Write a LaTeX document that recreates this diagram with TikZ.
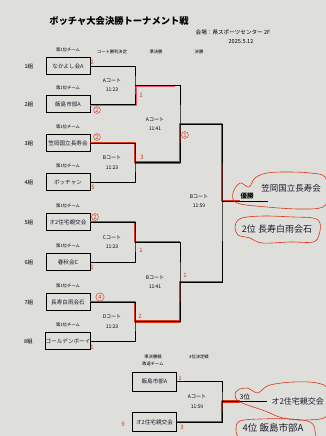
\documentclass[tikz,border=0pt]{standalone}
\usepackage{fontspec}
\setmainfont{Noto Sans CJK JP}
\usetikzlibrary{positioning}
\definecolor{paper}{RGB}{222,222,219}
\definecolor{pen}{RGB}{221,52,24}
\definecolor{pinkpen}{RGB}{235,85,110}
\definecolor{ink}{RGB}{30,30,48}
\tikzset{
  teambox/.style={draw=black, line width=0.7pt, minimum width=44pt, minimum height=17pt, inner sep=0pt, text=ink, font=\fontsize{5.6}{5.6}\selectfont},
  tinylbl/.style={font=\fontsize{4.3}{7}\selectfont},
  grp/.style={font=\fontsize{5.5}{5.5}\selectfont},
  court/.style={align=center, font=\fontsize{5}{9.5}\selectfont},
  wire/.style={draw=black, line width=0.75pt},
  winpath/.style={draw=pen, line width=2.4pt, line join=round},
  score/.style={text=pen, font=\fontsize{6}{6}\selectfont, inner sep=0.5pt},
  ringed/.style={score, draw=pen, circle, line width=0.45pt},
  loop/.style={draw=pen, line width=0.6pt},
  rank/.style={font=\fontsize{6.5}{6.5}\selectfont},
  handname/.style={text=ink, font=\fontsize{8.5}{8.5}\selectfont},
}
\begin{document}
\begin{tikzpicture}[x=1pt,y=-1pt]
\fill[paper] (0,0) rectangle (326,436);
\useasboundingbox (0,0) rectangle (326,436);

% heading
\node[font=\fontsize{9.3}{9.3}\selectfont\bfseries] (title) at (119,21) {ボッチャ大会決勝トーナメント戦};
\node[font=\fontsize{5.6}{5.6}\selectfont] (venue) at (233,32) {会場：県スポーツセンター 2F};
\node[font=\fontsize{5.6}{5.6}\selectfont] (date) at (241,42) {2025.5.12};
\node[tinylbl] (hq) at (112,52) {コート勝利決定};
\node[tinylbl] (hs) at (156,52) {準決勝};
\node[tinylbl] (hf) at (199,52) {決勝};

% teams
\foreach \i/\y/\team in {1/66/なかよし会A, 2/104/飯島市部A, 3/143/笠岡国立長寿会, 4/182/ボッチャン,
    5/222/オ2住宅親交会, 6/262/春秋会C, 7/302/長寿白雨会石, 8/341/ゴールデンボーイ}{
  \node[teambox] (g\i) at (68,\y) {\team};
  \node[grp, left=9pt of g\i] (n\i) {{\i}組};
  \node[tinylbl, above=1.5pt of g\i] (h\i) {第1位チーム};
}

% junctions
\coordinate (qA) at (135,85);
\coordinate (qB) at (135,162.5);
\coordinate (qC) at (135,242);
\coordinate (qD) at (135,321.5);
\coordinate (sA) at (180,124);
\coordinate (sB) at (180,282);
\coordinate (fin) at (222,201);
\coordinate (win) at (268,201);

% red marker over the winners
\draw[draw=pinkpen, line width=1pt] ([yshift=-1.5pt]g2.east) -| ([xshift=1.5pt,yshift=-1.5pt]qA) -- ([xshift=40pt,yshift=-1.5pt]qA);
\draw[winpath] (g3.east) -| (qB) -| (sA) -| (fin) -- ([xshift=18pt]fin);
\draw[winpath, line width=1.6pt] (g5.east) -| (qC) -- (qC -| sB);
\draw[winpath] (g7.east) -| (qD) -| (sB) -- (sB -| fin);

% bracket
\draw[wire] (g1.east) -| (qA) |- (g2.east);
\draw[wire] (g3.east) -| (qB) |- (g4.east);
\draw[wire] (g5.east) -| (qC) |- (g6.east);
\draw[wire] (g7.east) -| (qD) |- (g8.east);
\draw[wire] (qA) -| (sA) |- (qB);
\draw[wire] (qC) -| (sB) |- (qD);
\draw[wire] (sA) -| (fin) |- (sB);
\draw[wire] (fin) -- (win);

\node[court] (cA) at (112,85) {Aコート\\11:23};
\node[court] (cB) at (112,162.5) {Bコート\\11:23};
\node[court] (cC) at (112,242) {Cコート\\11:23};
\node[court] (cD) at (112,321.5) {Dコート\\11:23};
\node[court] (sAl) at (155,124) {Aコート\\11:41};
\node[court] (sBl) at (155,282) {Bコート\\11:41};
\node[court] (fl) at (199,201) {Bコート\\11:59};

% third place
\node[tinylbl, align=center] (h3s) at (153,360) {準決勝戦\\敗退チーム};
\node[tinylbl] (h3f) at (199,357) {3位決定戦};
\node[teambox, minimum height=19pt] (t1) at (154.5,381.5) {飯島市部A};
\node[teambox, minimum height=19pt] (t2) at (154.5,422) {オ2住宅親交会};
\coordinate (th) at (222,401.5);
\coordinate (thend) at (267,401.5);
\draw[winpath] (t2.east) -| (th) -- ([xshift=18pt]th);
\draw[wire] (t1.east) -| (th) |- (t2.east);
\draw[wire] (th) -- (thend);
\node[court] (tl) at (197,401.5) {Aコート\\11:59};

% ranks
\node[rank, font=\fontsize{6.5}{6.5}\selectfont\bfseries] (r1) at (247,196) {優勝};
\node[handname] (champ) at (291,188) {笠岡国立長寿会};
\node[handname, font=\fontsize{9}{9}\selectfont] (r2) at (277,229) {2位\ 長寿白雨会石};
\node[rank] (r3) at (245,397) {3位};
\node[handname, font=\fontsize{8}{8}\selectfont, anchor=west] (third) at (268,401.5) {オ2住宅親交会};
\node[handname, font=\fontsize{9.5}{9.5}\selectfont] (r4) at (273,428) {4位\ 飯島市部A};

% hand drawn loops
\draw[loop] plot[smooth cycle, tension=0.6] coordinates {(233,193) (240,183) (249,187) (255,178) (267,173) (287,172) (310,173) (325,177) (328,195) (323,207) (300,209) (267,207) (237,203)};
\draw[loop] plot[smooth cycle, tension=0.6] coordinates {(235,227) (238,220) (247,217) (267,216) (293,217) (313,218) (320,223) (319,235) (313,242) (290,242) (262,243) (250,238) (238,235)};
\draw[loop] plot[smooth cycle, tension=0.6] coordinates {(235,395) (238,390) (247,388) (257,393) (262,390) (270,385) (293,382) (317,383) (328,390) (328,415) (307,420) (283,418) (265,411) (240,402)};
\draw[loop] plot[smooth cycle, tension=0.6] coordinates {(236,429) (240,421) (260,419) (290,419) (310,422) (315,431) (310,440) (260,441) (240,438)};

% scores
\node[score] (p1) at (92,62) {2};
\node[ringed] (p2) at (97,110) {2};
\node[ringed] (p3) at (97,137) {2};
\node[score] (p4) at (93,187) {5};
\node[ringed] (p5) at (95,217) {2};
\node[score] (p6) at (92,267) {1};
\node[ringed, inner sep=1pt] (p7) at (100,297) {4};
\node[score] (p8) at (92,347) {1};
\node[score] (pA) at (141,95) {1};
\node[score] (pB) at (142,157) {3};
\node[ringed] (pS1) at (185,135) {1};
\node[score] (pC) at (141,250) {1};
\node[score] (pS2) at (185,275) {1};
\node[score] (pD) at (140,316) {2};
\node[score] (pt1) at (180,378) {1};
\node[score] (pt2) at (182,427) {3};
\node[score] (pt3) at (123,424) {9};
\end{tikzpicture}
\end{document}
